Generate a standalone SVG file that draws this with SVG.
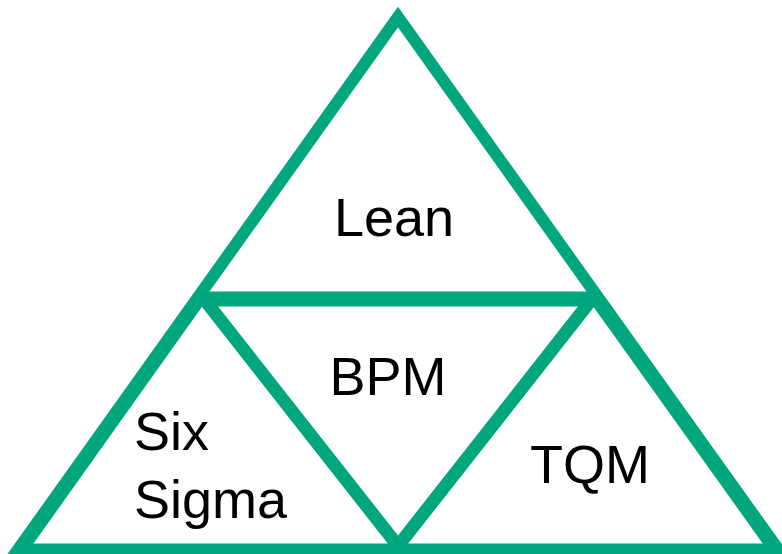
<svg xmlns="http://www.w3.org/2000/svg" width="782" height="554" viewBox="0 0 782 554">
<style>
.ln{fill:none;stroke:#00a67e;stroke-linejoin:miter;stroke-miterlimit:10}
.t{font-family:"Liberation Sans","Noto Sans",sans-serif;font-size:54px;fill:#000}
</style>
<rect width="782" height="554" fill="#fff"/>
<g id="connectors">
<polygon class="ln" stroke-width="12" points="398,17 17,551 779,551"/>
<line class="ln" stroke-width="15" x1="198" y1="299" x2="598" y2="299"/>
<polyline class="ln" stroke-width="13" points="204,299 398,546 592,299"/>
<line class="ln" stroke-width="14" x1="199" y1="299" x2="16" y2="556"/>
<line class="ln" stroke-width="15" x1="597" y1="299" x2="781" y2="556"/>
<line class="ln" stroke-width="13" x1="17" y1="550" x2="781" y2="550"/>
</g>
<g id="lean"><text class="t" x="394" y="236" text-anchor="middle">Lean</text></g>
<g id="bpm"><text class="t" x="388" y="395" text-anchor="middle">BPM</text></g>
<g id="sixsigma"><text class="t" x="134" y="450">Six</text><text class="t" x="134" y="518">Sigma</text></g>
<g id="tqm"><text class="t" x="530" y="483">TQM</text></g>
</svg>
